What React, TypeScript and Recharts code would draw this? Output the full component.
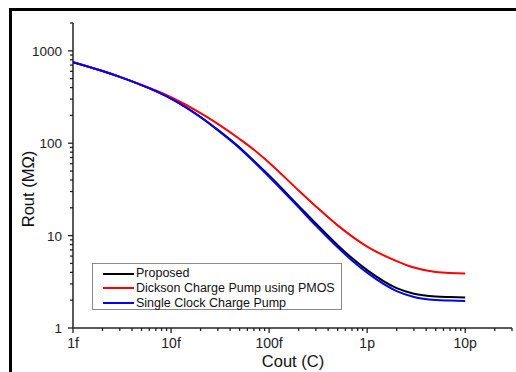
import { LineChart, Line, XAxis, YAxis, Label } from 'recharts';

// output capacitance in farads (1f .. 10p)
const capacitance = [
  1e-15, 2e-15, 3e-15, 5e-15, 7e-15,
  1e-14, 2e-14, 3e-14, 5e-14, 7e-14,
  1e-13, 2e-13, 3e-13, 5e-13, 7e-13,
  1e-12, 2e-12, 3e-12, 5e-12, 7e-12,
  1e-11,
];

// output resistance in MOhm
const proposed = [755, 605, 523, 426, 366, 304, 192, 139.4, 89.6, 64.3, 44.7, 21.0, 13.5, 7.88, 5.71, 4.23, 2.7, 2.35, 2.19, 2.16, 2.14];
const dickson = [755, 605, 523, 428, 372, 314.5, 212, 162, 111, 84.9, 61.6, 30.8, 20.7, 12.9, 9.82, 7.6, 5.3, 4.51, 4.03, 3.93, 3.9];
const singleClock = [755, 605, 523, 426, 366, 304, 191, 138, 88.3, 63.0, 43.4, 20.2, 12.85, 7.47, 5.39, 3.97, 2.51, 2.17, 2.01, 1.98, 1.96];

const xMajor = [1e-15, 1e-14, 1e-13, 1e-12, 1e-11];
const xTickLabels = ['1f', '10f', '100f', '1p', '10p'];
const yMajor = [1, 10, 100, 1000];
const yTickLabels = ['1', '10', '100', '1000'];

const series = [
  { key: 'proposed', name: 'Proposed', color: '#000000', values: proposed },
  { key: 'dickson', name: 'Dickson Charge Pump using PMOS', color: '#ff0000', values: dickson },
  { key: 'single', name: 'Single Clock Charge Pump', color: '#0000ff', values: singleClock },
];

const chartData = capacitance.map((c, i) => ({
  c,
  proposed: proposed[i],
  dickson: dickson[i],
  single: singleClock[i],
}));

// minor ticks 2..9 per decade
const makeTicks = (fromExp: number, toExp: number, extra: number[]) => {
  const out: number[] = [];
  for (let e = fromExp; e < toExp; e++) {
    for (let m = 1; m <= 9; m++) out.push(Number(`${m}e${e}`));
  }
  return out.concat(extra);
};
const xTicks = makeTicks(-15, -11, [1e-11, 2e-11, 3e-11]);
const yTicks = makeTicks(0, 3, [1000, 2000]);

const font = '"Liberation Sans", Arial, sans-serif';

const isMajor = (v: number, majors: number[]) =>
  majors.findIndex((m) => Math.abs(v / m - 1) < 1e-6);

const XTick = ({ x, y, payload }: any) => {
  const idx = isMajor(payload.value, xMajor);
  const len = idx >= 0 ? 5 : 3;
  return (
    <g>
      <line x1={x} x2={x} y1={y} y2={y + len} stroke="#222" strokeWidth={1.3} />
      {idx >= 0 && (
        <text x={x} y={y + 20} textAnchor="middle" fontSize={14} fill="#222" fontFamily={font}>
          {xTickLabels[idx]}
        </text>
      )}
    </g>
  );
};

const YTick = ({ x, y, payload }: any) => {
  const idx = isMajor(payload.value, yMajor);
  const len = idx >= 0 ? 5 : 3;
  return (
    <g>
      <line x1={x - len} x2={x} y1={y} y2={y} stroke="#222" strokeWidth={1.3} />
      {idx >= 0 && (
        <text x={x - 11} y={y + 5} textAnchor="end" fontSize={13.5} fill="#222" fontFamily={font}>
          {yTickLabels[idx]}
        </text>
      )}
    </g>
  );
};

export default function App() {
  return (
    <div style={{ position: 'absolute', left: 0, top: 0, width: 516, height: 372, background: '#fff', fontFamily: font }}>
      <div
        style={{
          position: 'absolute', left: 9, top: 8, right: 0, bottom: 0,
          borderTop: '3px solid #000', borderLeft: '3px solid #000',
        }}
      />
      <div style={{ position: 'absolute', left: 0, top: 0 }}>
        <LineChart width={516} height={372} data={chartData} margin={{ top: 23, right: 4, bottom: 14, left: 0 }}>
          <XAxis
            dataKey="c"
            type="number"
            scale="log"
            domain={[1e-15, 3e-11]}
            allowDataOverflow
            ticks={xTicks}
            interval={0}
            tick={<XTick />}
            tickLine={false}
            tickSize={0}
            tickMargin={0}
            height={30}
            axisLine={{ stroke: '#222', strokeWidth: 1.5 }}
          >
            <Label
              content={() => (
                <text x={293} y={367} textAnchor="middle" fontSize={16.5} fill="#111" fontFamily={font}>
                  Cout (C)
                </text>
              )}
            />
          </XAxis>
          <YAxis
            type="number"
            scale="log"
            domain={[1, 2000]}
            allowDataOverflow
            ticks={yTicks}
            interval={0}
            tick={<YTick />}
            tickLine={false}
            tickSize={0}
            tickMargin={0}
            width={73}
            axisLine={{ stroke: '#222', strokeWidth: 1.5 }}
          >
            <Label
              content={() => (
                <text
                  x={28}
                  y={189}
                  transform="rotate(-90 28 189)"
                  textAnchor="middle"
                  dominantBaseline="central"
                  fontSize={16.5}
                  fill="#111"
                  fontFamily={font}
                >
                  Rout (MΩ)
                </text>
              )}
            />
          </YAxis>
          {series.map((s) => (
            <Line
              key={s.key}
              dataKey={s.key}
              name={s.name}
              type="monotone"
              stroke={s.color}
              strokeWidth={2}
              dot={false}
              isAnimationActive={false}
            />
          ))}
        </LineChart>
      </div>
      {/* legend box */}
      <div
        style={{
          position: 'absolute', left: 92, top: 263, width: 248, height: 45,
          border: '1px solid #8a8a8a', background: '#fff',
        }}
      >
        {series.map((s, i) => (
          <div key={s.key} style={{ position: 'absolute', left: 0, top: 2 + i * 14.8, height: 15, width: 248 }}>
            <div style={{ position: 'absolute', left: 10, top: 6.5, width: 31, height: 2, background: s.color }} />
            <div style={{ position: 'absolute', left: 43, top: 0, fontSize: 12.5, lineHeight: '15px', color: '#111', whiteSpace: 'nowrap' }}>
              {s.name}
            </div>
          </div>
        ))}
      </div>
    </div>
  );
}
